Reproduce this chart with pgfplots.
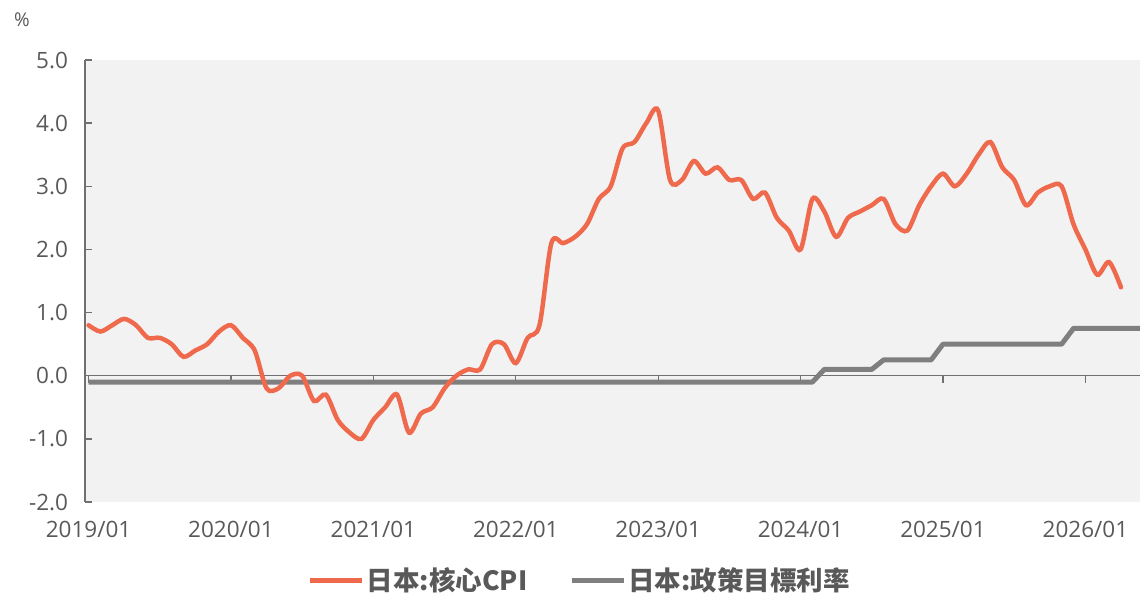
\documentclass[border=0pt]{standalone}
\usepackage{fontspec}
\setmainfont{Open Sans}
\newfontfamily\cjk{Noto Sans CJK SC}
\usepackage{pgfplots}
\pgfplotsset{compat=1.18}

\definecolor{cpiorange}{RGB}{239,106,77}
\definecolor{rategray}{RGB}{127,127,127}
\definecolor{bggray}{RGB}{242,242,242}
\definecolor{axisgray}{RGB}{112,112,112}
\definecolor{txtgray}{RGB}{89,89,89}

\begin{document}
\begin{tikzpicture}
\useasboundingbox (-85pt,-93pt) rectangle (1055pt,502pt);
\begin{axis}[
    scale only axis,
    width=1055pt,
    height=442pt,
    xmin=-0.3, xmax=88.6,
    ymin=-2, ymax=5,
    axis x line=middle,
    axis y line=left,
    axis line style={-, draw=axisgray, line width=1.3pt},
    every inner x axis line/.append style={-},
    every outer y axis line/.append style={-},
    axis background/.style={fill=bggray},
    hide obscured x ticks=false,
    xtick={0,12,24,36,48,60,72,84},
    xticklabels={2019/01,2020/01,2021/01,2022/01,2023/01,2024/01,2025/01,2026/01},
    ytick={-2,-1,0,1,2,3,4,5},
    yticklabel style={/pgf/number format/fixed, /pgf/number format/fixed zerofill,
        /pgf/number format/precision=1, xshift=-10pt},
    tick align=center,
    major tick length=7pt,
    tick style={draw=axisgray, line width=1.3pt},
    x tick style={yshift=-3.5pt},
    y tick style={xshift=3.5pt},
    tick label style={font=\fontsize{22.5}{22.5}\selectfont, text=txtgray},
    /pgf/number format/assume math mode=true,
    xticklabel style={yshift=-138pt},
    legend style={draw=none, fill=none, at={(0.469,-0.1765)}, anchor=center,
        font=\cjk\bfseries\fontsize{26.5}{26.5}\selectfont, text=txtgray,
        legend columns=2,
        /tikz/every even column/.append style={column sep=40pt}},
    legend image code/.code={\draw[#1, line width=5pt] (0pt,0pt) -- (52pt,0pt);},
]
\addlegendimage{cpiorange}
\addlegendentry{日本:核心CPI}
\addlegendimage{rategray}
\addlegendentry{日本:政策目標利率}

% policy rate
\addplot[forget plot, rategray, line width=5pt, line join=round] coordinates {
(0,-0.1) (61,-0.1) (62,0.1) (66,0.1) (67,0.25) (71,0.25) (72,0.5) (82,0.5) (83,0.75) (89,0.75)
};

% core CPI
\addplot[forget plot, cpiorange, line width=4.5pt, smooth, tension=0.5, line cap=round] coordinates {
(0,0.8) (1,0.7) (2,0.8) (3,0.9) (4,0.8) (5,0.6) (6,0.6) (7,0.5) (8,0.3) (9,0.4) (10,0.5) (11,0.7)
(12,0.8) (13,0.6) (14,0.4) (15,-0.2) (16,-0.2) (17,0.0) (18,0.0) (19,-0.4) (20,-0.3) (21,-0.7) (22,-0.9) (23,-1.0)
(24,-0.7) (25,-0.5) (26,-0.3) (27,-0.9) (28,-0.6) (29,-0.5) (30,-0.2) (31,0.0) (32,0.1) (33,0.1) (34,0.5) (35,0.5)
(36,0.2) (37,0.6) (38,0.8) (39,2.1) (40,2.1) (41,2.2) (42,2.4) (43,2.8) (44,3.0) (45,3.6) (46,3.7) (47,4.0)
(48,4.2) (49,3.1) (50,3.1) (51,3.4) (52,3.2) (53,3.3) (54,3.1) (55,3.1) (56,2.8) (57,2.9) (58,2.5) (59,2.3)
(60,2.0) (61,2.8) (62,2.6) (63,2.2) (64,2.5) (65,2.6) (66,2.7) (67,2.8) (68,2.4) (69,2.3) (70,2.7) (71,3.0)
(72,3.2) (73,3.0) (74,3.2) (75,3.5) (76,3.7) (77,3.3) (78,3.1) (79,2.7) (80,2.9) (81,3.0) (82,3.0) (83,2.4)
(84,2.0) (85,1.6) (86,1.8) (87,1.4)
};
\end{axis}
\node[anchor=center, font=\fontsize{19}{19}\selectfont, text=txtgray] at (-63pt,482pt) {\%};
\end{tikzpicture}
\end{document}
